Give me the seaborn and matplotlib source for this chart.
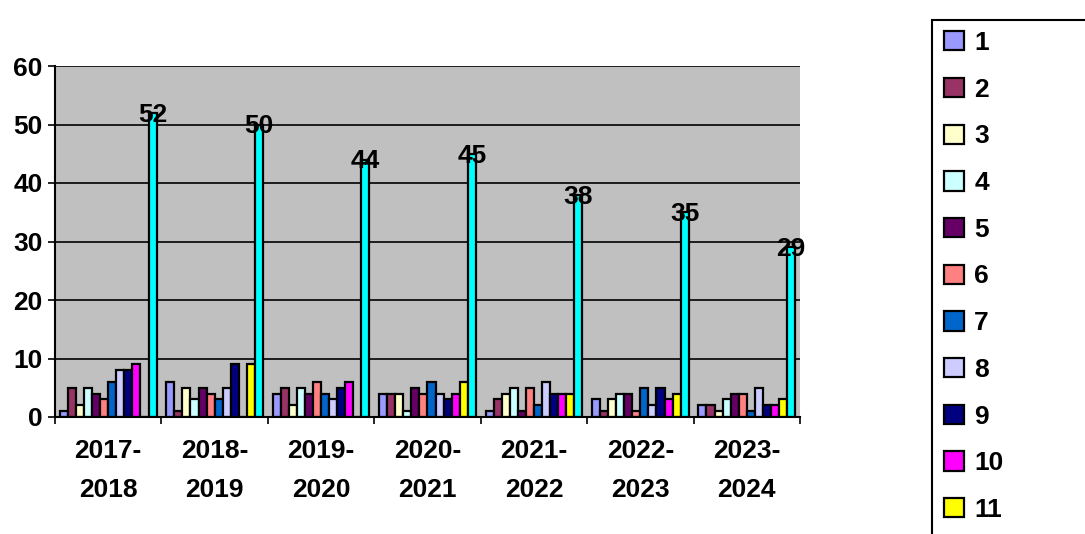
import pandas as pd
import matplotlib.pyplot as plt
import seaborn as sns
from matplotlib.patches import Rectangle
from matplotlib.ticker import MultipleLocator


# Data
periods = ['2017-\n2018', '2018-\n2019', '2019-\n2020', '2020-\n2021',
           '2021-\n2022', '2022-\n2023', '2023-\n2024']
series_names = [str(i) for i in range(1, 13)]

s1 = [1, 6, 4, 4, 1, 3, 2]
s2 = [5, 1, 5, 4, 3, 1, 2]
s3 = [2, 5, 2, 4, 4, 3, 1]
s4 = [5, 3, 5, 1, 5, 4, 3]
s5 = [4, 5, 4, 5, 1, 4, 4]
s6 = [3, 4, 6, 4, 5, 1, 4]
s7 = [6, 3, 4, 6, 2, 5, 1]
s8 = [8, 5, 3, 4, 6, 2, 5]
s9 = [8, 9, 5, 3, 4, 5, 2]
s10 = [9, 0, 6, 4, 4, 3, 2]
s11 = [0, 9, 0, 6, 4, 4, 3]
s12 = [52, 50, 44, 45, 38, 35, 29]
all_series = [s1, s2, s3, s4, s5, s6, s7, s8, s9, s10, s11, s12]

# Classic office chart palette
colors = ['#9999FF', '#993366', '#FFFFCC', '#CCFFFF', '#660066', '#FF8080',
          '#0066CC', '#CCCCFF', '#000080', '#FF00FF', '#FFFF00', '#00FFFF']

rows = []
for name, vals in zip(series_names, all_series):
    for p, v in zip(periods, vals):
        rows.append({'period': p, 'series': name, 'value': v})
df = pd.DataFrame(rows)

sns.set_style('white')
plt.rcParams['font.family'] = ['Liberation Sans', 'DejaVu Sans']
plt.rcParams['font.weight'] = 'bold'
plt.rcParams['text.color'] = 'black'
plt.rcParams['xtick.color'] = 'black'
plt.rcParams['ytick.color'] = 'black'
plt.rcParams['xtick.labelcolor'] = 'black'
plt.rcParams['ytick.labelcolor'] = 'black'

FS = 19

fig = plt.figure(figsize=(10.85, 5.34), dpi=100)
ax = fig.add_axes([55 / 1085, 1 - 417 / 534, 745 / 1085, 351 / 534])
ax.set_facecolor('#C0C0C0')

sns.barplot(
    data=df, x='period', y='value', hue='series',
    order=periods, hue_order=series_names, palette=colors,
    saturation=1, edgecolor='black', linewidth=1.6, width=0.91, ax=ax
)

ax.set_ylim(0, 60)
ax.set_xlim(-0.5, len(periods) - 0.5)
ax.yaxis.set_major_locator(MultipleLocator(10))
ax.grid(axis='y', color='black', linewidth=1.2)
ax.set_axisbelow(True)
ax.set_xlabel('')
ax.set_ylabel('')

for side in ['top', 'right']:
    ax.spines[side].set_visible(False)
for side in ['left', 'bottom']:
    ax.spines[side].set_color('black')
    ax.spines[side].set_linewidth(1.5)

ax.tick_params(axis='y', direction='out', length=5, width=1.2,
               labelsize=FS, pad=4, left=True)
ax.tick_params(axis='x', which='major', length=0, labelsize=FS, pad=16)
ax.set_xticks([i - 0.5 for i in range(len(periods) + 1)], minor=True)
ax.tick_params(axis='x', which='minor', direction='out', length=5,
               width=1.2, bottom=True)
for lbl in ax.get_xticklabels():
    lbl.set_linespacing(1.8)
    lbl.set_fontweight('bold')
for lbl in ax.get_yticklabels():
    lbl.set_fontweight('bold')

# value labels on the tall series
ax.bar_label(ax.containers[-1], fontsize=FS, fontweight='bold',
             color='black', padding=-10)

# legend shows series 1-11, box runs off the right and bottom of the picture
handles, labels = ax.get_legend_handles_labels()
ax.get_legend().remove()
fig.legend(
    handles[:11], labels[:11], loc='upper left',
    bbox_to_anchor=(944 / 1085, 1 - 31 / 534),
    frameon=False, prop={'weight': 'bold', 'size': FS},
    handlelength=0.75, handleheight=0.75, handletextpad=0.4,
    labelspacing=0.86, borderpad=0, borderaxespad=0
)
fig.add_artist(Rectangle((932 / 1085, -0.1), 0.2, 1.1 - 20 / 534,
                         transform=fig.transFigure, fill=False,
                         edgecolor='black', linewidth=1.5))

fig.savefig('out.png', dpi=100)
